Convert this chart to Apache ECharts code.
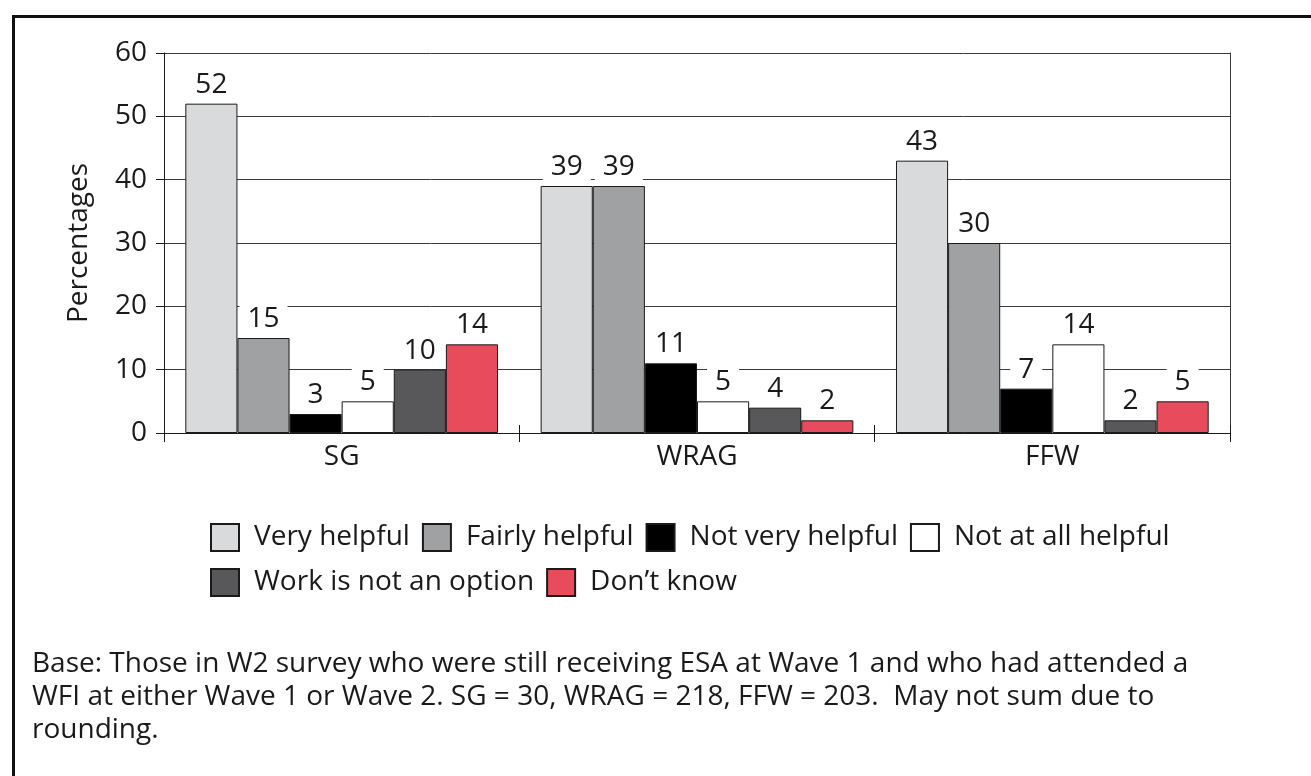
<!DOCTYPE html>
<html>
<head>
<meta charset="utf-8">
<style>
  html, body { margin: 0; padding: 0; background: #fff; }
  #chart { width: 1311px; height: 776px; }
</style>
<script src="https://cdn.jsdelivr.net/npm/echarts@6/dist/echarts.min.js"></script>
</head>
<body>
<div id="chart"></div>
<script>
// Groups along the x axis
const categories = ['SG', 'WRAG', 'FFW'];

// Response options (one series each) and their fill colours
const seriesNames = ['Very helpful', 'Fairly helpful', 'Not very helpful', 'Not at all helpful', 'Work is not an option', 'Don\u2019t know'];
const seriesColors = ['#d9dadc', '#a0a1a3', '#000000', '#ffffff', '#58585a', '#e84c5c'];

// Percentages per response, in category order
const veryHelpful = [52, 39, 43];
const fairlyHelpful = [15, 39, 30];
const notVeryHelpful = [3, 11, 7];
const notAtAllHelpful = [5, 5, 14];
const workNotOption = [10, 4, 2];
const dontKnow = [14, 2, 5];

const seriesValues = [veryHelpful, fairlyHelpful, notVeryHelpful, notAtAllHelpful, workNotOption, dontKnow];

// Y axis ticks
const yTicks = [0, 10, 20, 30, 40, 50, 60];

const footnoteLines = [
  'Base: Those in W2 survey who were still receiving ESA at Wave 1 and who had attended a',
  'WFI at either Wave 1 or Wave 2. SG = 30, WRAG = 218, FFW = 203.  May not sum due to',
  'rounding.'
];

const FONT = '"Open Sans", "Noto Sans", sans-serif';
const TEXT = '#1a1a1a';
const FS = 28;

const chart = echarts.init(document.getElementById('chart'), null, { renderer: 'canvas' });

const series = seriesNames.map((name, i) => ({
  name: name,
  type: 'bar',
  data: seriesValues[i],
  barGap: '0%',
  barCategoryGap: '12%',
  itemStyle: { color: seriesColors[i], borderColor: '#1a1a1a', borderWidth: 1 },
  label: {
    show: true,
    position: 'top',
    distance: 4,
    color: TEXT,
    fontFamily: FONT,
    fontSize: FS,
    lineHeight: 30,
    backgroundColor: '#ffffff',
    padding: [0, 8, 0, 8]
  },
  emphasis: { disabled: true },
  z: 3
}));

const legendCommon = {
  left: 205,
  itemWidth: 28,
  itemHeight: 27,
  itemGap: 12,
  icon: 'rect',
  textStyle: { color: TEXT, fontFamily: FONT, fontSize: FS, padding: [0, 0, 0, 10] },
  selectedMode: false
};

const axisColor = '#1a1a1a';
const gridColor = '#3a3a3a';

chart.setOption({
  backgroundColor: '#ffffff',
  animation: false,
  textStyle: { fontFamily: FONT },
  grid: { left: 164, right: 81, top: 53, bottom: 343 },
  legend: [
    Object.assign({ top: 518, data: seriesNames.slice(0, 4) }, legendCommon),
    Object.assign({ top: 563, data: seriesNames.slice(4) }, legendCommon)
  ],
  xAxis: [
    {
      type: 'category',
      data: categories,
      axisLine: { lineStyle: { color: axisColor, width: 1 } },
      axisTick: { show: true, alignWithLabel: false, length: 9, lineStyle: { color: axisColor } },
      axisLabel: { color: TEXT, fontFamily: FONT, fontSize: FS, margin: 10 }
    },
    {
      // inward half of the category boundary ticks
      type: 'category',
      data: categories,
      position: 'bottom',
      axisLine: { show: false },
      axisTick: { show: true, inside: true, alignWithLabel: false, length: 8, lineStyle: { color: axisColor } },
      axisLabel: { show: false },
      splitLine: { show: false }
    }
  ],
  yAxis: [
    {
      type: 'value',
      min: 0,
      max: 60,
      interval: 10,
      name: 'Percentages',
      nameLocation: 'middle',
      nameGap: 71,
      nameRotate: 90,
      nameTextStyle: { color: TEXT, fontFamily: FONT, fontSize: FS },
      axisLine: { show: true, lineStyle: { color: axisColor, width: 1 } },
      axisTick: { show: true, length: 8, lineStyle: { color: axisColor } },
      axisLabel: {
        color: TEXT, fontFamily: FONT, fontSize: FS, margin: 17,
        formatter: v => (yTicks.indexOf(v) >= 0 ? String(v) : '')
      },
      splitLine: { show: true, lineStyle: { color: gridColor, width: 1 } }
    },
    {
      type: 'value',
      position: 'right',
      min: 0,
      max: 60,
      interval: 10,
      axisLine: { show: true, lineStyle: { color: gridColor, width: 1 } },
      axisTick: { show: false },
      axisLabel: { show: false },
      splitLine: { show: false }
    }
  ],
  series: series,
  graphic: [
    {
      type: 'rect',
      left: 11,
      top: 14,
      shape: { width: 1320, height: 800 },
      style: { fill: 'none', stroke: '#111111', lineWidth: 3 },
      silent: true,
      z: 0
    },
    {
      type: 'text',
      left: 32,
      top: 648,
      style: {
        text: footnoteLines.join('\n'),
        fill: TEXT,
        font: FS + 'px ' + FONT,
        lineHeight: 33
      },
      silent: true
    }
  ]
});
</script>
</body>
</html>
